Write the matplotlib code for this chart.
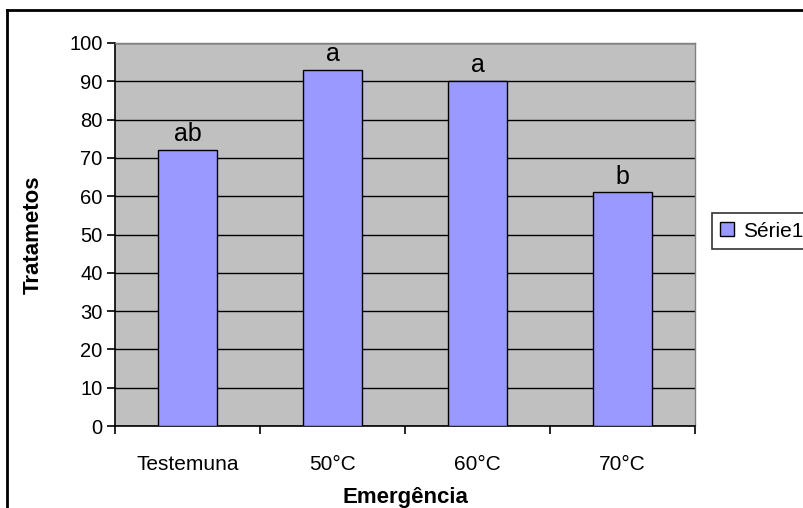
import numpy as np
import matplotlib
matplotlib.use('Agg')
from matplotlib import pyplot as plt
from matplotlib.lines import Line2D
from matplotlib.patches import Patch

plt.rcParams['font.family'] = ['Liberation Sans', 'DejaVu Sans']

categories = ['Testemuna', '50°C', '60°C', '70°C']
values = [72, 93, 90, 61]
letters = ['ab', 'a', 'a', 'b']

fig = plt.figure(figsize=(8.04, 5.08), dpi=100)
W, H = 804, 508
# plot area in pixels: left 115, right 695, top 43, bottom 426
ax = fig.add_axes([115 / W, 1 - 426 / H, (695 - 115) / W, (426 - 43) / H])
ax.set_facecolor('#C0C0C0')

x = np.arange(len(categories))
ax.bar(x, values, width=0.41, color='#9999FF', edgecolor='black', linewidth=1.0, zorder=3)
for xi, v, t in zip(x, values, letters):
    ax.text(xi, v + 1.0, t, ha='center', va='bottom', fontsize=18, zorder=4)

ax.set_xlim(-0.5, len(categories) - 0.5)
ax.set_ylim(0, 100)
ax.set_yticks(np.arange(0, 101, 10))
ax.yaxis.grid(True, color='black', linewidth=1.0, zorder=0)
ax.set_axisbelow(True)

ax.set_xticks(x)
ax.set_xticklabels(categories, fontsize=15)
ax.set_xticks(np.arange(-0.5, len(categories)), minor=True)
ax.tick_params(axis='x', which='major', length=0, pad=21)
ax.tick_params(axis='x', which='minor', length=6, width=1.2, direction='out')
ax.tick_params(axis='y', length=6, width=1.2, direction='out', labelsize=14.5, pad=3)

for s in ['top', 'right']:
    ax.spines[s].set_color('#808080')
    ax.spines[s].set_linewidth(1.0)
ax.spines['left'].set_linewidth(1.2)
ax.spines['bottom'].set_linewidth(1.2)

ax.set_xlabel('Emergência', fontsize=16, fontweight='bold')
ax.set_ylabel('Tratametos', fontsize=16, fontweight='bold')
ax.xaxis.set_label_coords(0.5, -0.16)
ax.yaxis.set_label_coords(-0.122, 0.5)

handle = Patch(facecolor='#9999FF', edgecolor='black', linewidth=1.0)
leg = fig.legend([handle], ['Série1'], loc='center left', bbox_to_anchor=(712 / W, 1 - 231 / H),
                 fontsize=15, frameon=True, fancybox=False, edgecolor='black',
                 handlelength=0.65, handleheight=0.65, handletextpad=0.45, borderpad=0.4,
                 borderaxespad=0)
leg.get_frame().set_linewidth(1.2)

# outer chart border (left and top visible, rest cut off)
fig.add_artist(Line2D([7 / W, 7 / W], [0, 1 - 10 / H], color='black', linewidth=2))
fig.add_artist(Line2D([7 / W, 1], [1 - 10 / H, 1 - 10 / H], color='black', linewidth=2))

fig.savefig('out.png', dpi=100)
